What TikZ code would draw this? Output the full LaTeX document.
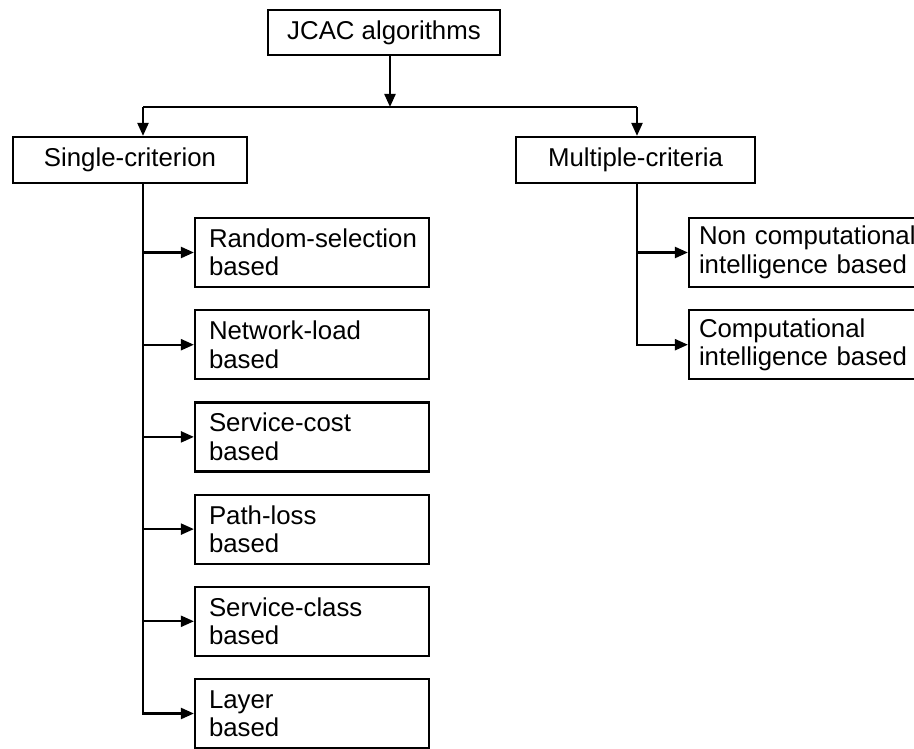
\documentclass[tikz,border=0pt]{standalone}
\usepackage{fontspec}
\setmainfont{Liberation Sans}
\usetikzlibrary{arrows.meta, positioning}
\hyphenpenalty=10000
\exhyphenpenalty=10000

\begin{document}
\begin{tikzpicture}[
    x=1pt, y=1pt,
    node distance=21pt,
    >={Triangle[length=13pt, width=11pt]},
    line width=2.2pt,
    every node/.style={font=\fontsize{25.8}{28.5}\selectfont},
    topbox/.style={rectangle, draw=black, minimum height=46pt, inner sep=0pt, align=center},
    leafbox/.style={rectangle, draw=black, minimum height=69pt, inner xsep=14pt, inner ysep=0pt, text width=206pt, align=left}
  ]
    \useasboundingbox (0,0) rectangle (914,-749);
    \clip (0,0) rectangle (914,-749);
    % top level
    \node[topbox, minimum width=232pt, minimum height=45pt] (root) at (384,-32.5) {JCAC algorithms};
    \node[topbox, minimum width=234pt] (single) at (130,-160) {Single-criterion};
    \node[topbox, minimum width=239pt] (multi) at (635.5,-160) {Multiple-criteria};
    \coordinate (rjoin) at (390,-107);
    \coordinate (sjoin) at (143,-107);
    \coordinate (mjoin) at (637,-107);
    % single-criterion leaves
    \node[leafbox] (rs) at (312,-252.5) {Random-selection\\based};
    \node[leafbox, below=of rs] (nl) {Network-load\\based};
    \node[leafbox, below=of nl] (sc) {Service-cost\\based};
    \node[leafbox, below=of sc] (pl) {Path-loss\\based};
    \node[leafbox, below=of pl] (scl) {Service-class\\based};
    \node[leafbox, below=of scl] (ly) {Layer\\based};
    % multiple-criteria leaves
    \node[leafbox, inner xsep=10pt, text width=222pt] (nci) at (810,-252.5) {Non computational\\intelligence based};
    \node[leafbox, inner xsep=10pt, text width=222pt, below=of nci] (ci) {Computational\\intelligence based};
    % connectors
    \draw[->] (root.south -| rjoin) -- (rjoin);
    \draw (sjoin) -- (mjoin);
    \draw[->] (sjoin) -- (sjoin |- single.north);
    \draw[->] (mjoin) -- (mjoin |- multi.north);
    \draw[->] (single.south -| sjoin) |- (ly.west);
    \foreach \n in {rs,nl,sc,pl,scl}
      \draw[->] (sjoin |- \n.west) -- (\n.west);
    \draw[->] (multi.south -| mjoin) |- (ci.west);
    \draw[->] (mjoin |- nci.west) -- (nci.west);
\end{tikzpicture}
\end{document}
